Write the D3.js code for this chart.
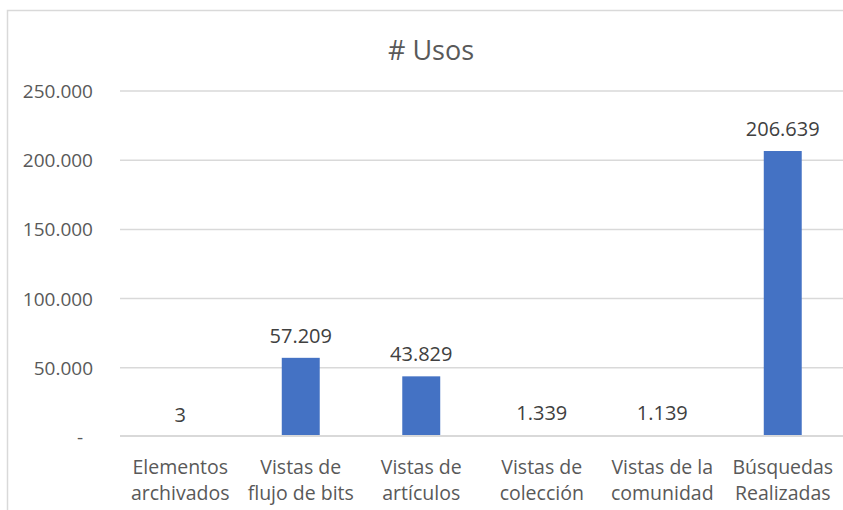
<!DOCTYPE html>
<html>
<head>
<meta charset="utf-8">
<script src="https://cdn.jsdelivr.net/npm/d3@7"></script>
<style>
  body { margin: 0; background: #fff; }
  text { font-family: "Open Sans", sans-serif; }
</style>
</head>
<body>
<svg id="chart" width="843" height="510"></svg>
<script>
// data
const categories = [
  ["Elementos", "archivados"],
  ["Vistas de", "flujo de bits"],
  ["Vistas de", "artículos"],
  ["Vistas de", "colección"],
  ["Vistas de la", "comunidad"],
  ["Búsquedas", "Realizadas"]
]
const usos = [3, 57209, 43829, 1339, 1139, 206639]
const yTicks = [0, 50000, 100000, 150000, 200000, 250000]

const es = d3.formatLocale({decimal: ",", thousands: ".", grouping: [3], currency: ["", ""]})
const fmt = es.format(",d")

const svg = d3.select("#chart")

// chart area border
svg.append("rect")
    .attr("x", 7.5).attr("y", 10.5)
    .attr("width", 900).attr("height", 600)
    .attr("fill", "#fff")
    .attr("stroke", "#d9d9d9")
    .attr("stroke-width", 1.5)

const x = d3.scaleBand()
    .domain(d3.range(categories.length))
    .range([120, 843])
    .paddingInner(0.685)
    .paddingOuter(0.3425)

const y = d3.scaleLinear()
    .domain([0, 250000])
    .range([437, 91])

// gridlines
svg.append("g")
    .selectAll("line")
    .data(yTicks.filter(d => d > 0))
    .enter().append("line")
    .attr("x1", 120).attr("x2", 843)
    .attr("y1", d => y(d)).attr("y2", d => y(d))
    .attr("stroke", "#d9d9d9")
    .attr("stroke-width", 1.5)

// y labels
svg.append("g")
    .selectAll("text")
    .data(yTicks)
    .enter().append("text")
    .attr("x", d => d === 0 ? 80 : 93)
    .attr("y", d => y(d) + 7)
    .attr("text-anchor", d => d === 0 ? "middle" : "end")
    .attr("font-size", 19)
    .attr("fill", "#595959")
    .text(d => d === 0 ? "-" : fmt(d))

// bars
svg.append("g")
    .selectAll("rect")
    .data(usos)
    .enter().append("rect")
    .attr("x", (d, i) => x(i))
    .attr("width", x.bandwidth())
    .attr("y", d => y(d))
    .attr("height", d => y(0) - y(d))
    .attr("fill", "#4472c4")

// base line, over the bars
svg.append("line")
    .attr("x1", 120).attr("x2", 843)
    .attr("y1", y(0) - 1).attr("y2", y(0) - 1)
    .attr("stroke", "#d9d9d9")
    .attr("stroke-width", 2.2)

// value labels
svg.append("g")
    .selectAll("text")
    .data(usos)
    .enter().append("text")
    .attr("x", (d, i) => x(i) + x.bandwidth() / 2)
    .attr("y", d => y(d) - 15)
    .attr("text-anchor", "middle")
    .attr("font-size", 20)
    .attr("fill", "#404040")
    .text(d => fmt(d))

// category labels
const cat = svg.append("g")
    .selectAll("text")
    .data(categories)
    .enter().append("text")
    .attr("text-anchor", "middle")
    .attr("font-size", 19.5)
    .attr("fill", "#595959")
    .attr("transform", (d, i) => "translate(" + (x(i) + x.bandwidth() / 2) + ",0)")

cat.selectAll("tspan")
    .data(d => d)
    .enter().append("tspan")
    .attr("x", 0)
    .attr("y", (d, j) => 474 + j * 26)
    .text(d => d)

// title
svg.append("text")
    .attr("x", 431)
    .attr("y", 60)
    .attr("text-anchor", "middle")
    .attr("font-size", 27)
    .attr("fill", "#595959")
    .text("# Usos")
</script>
</body>
</html>
